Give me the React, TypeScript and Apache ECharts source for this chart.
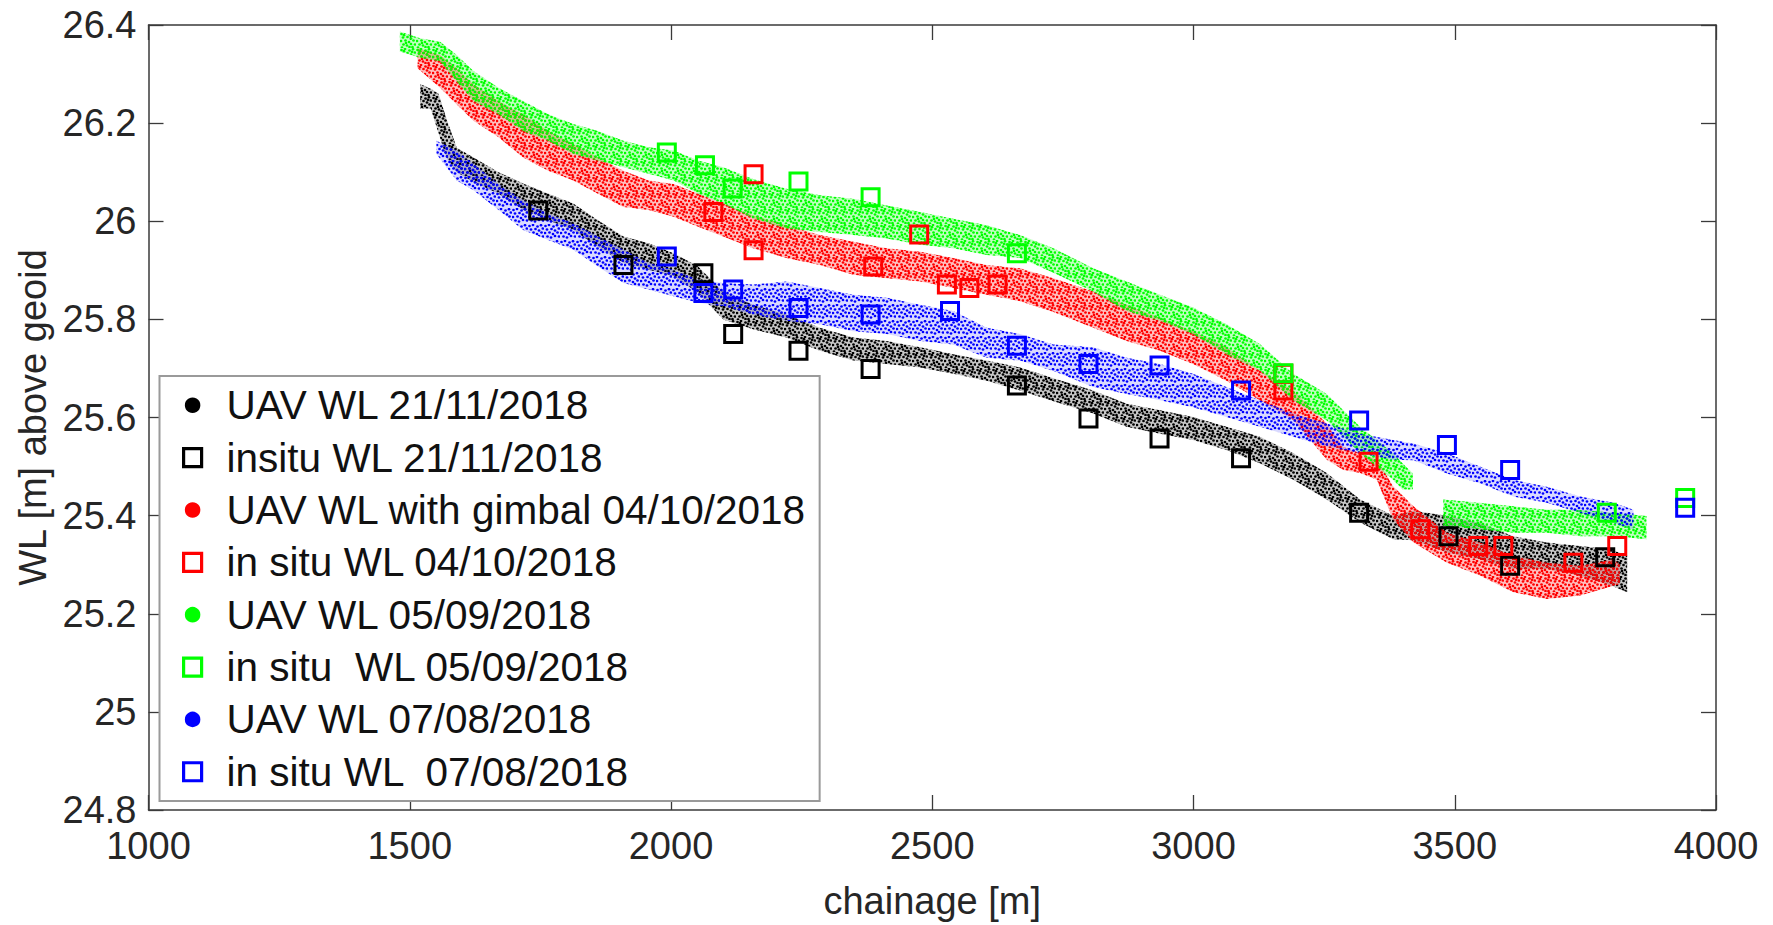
import React, { useEffect, useRef } from 'react';
import * as echarts from 'echarts';

const FONT = '"Liberation Sans", Arial, Helvetica, sans-serif';

// ---- names ----
const NAMES = [
  'UAV WL 21/11/2018',
  'insitu WL 21/11/2018',
  'UAV WL with gimbal 04/10/2018',
  'in situ WL 04/10/2018',
  'UAV WL 05/09/2018',
  'in situ  WL 05/09/2018',
  'UAV WL 07/08/2018',
  'in situ WL  07/08/2018',
];
const COLORS = ['#000000', '#ff0000', '#00ff00', '#0000ff'];

// ---- UAV WL 21/11/2018 (black) : point-cloud envelope ----
const uavNovX = [1520, 1540, 1555, 1570, 1590, 1622, 1670, 1717, 1765, 1813, 1860, 1909, 1957, 2005, 2052, 2100, 2157, 2221, 2285, 2349, 2413, 2477, 2540, 2604, 2668, 2732, 2808, 2872, 2936, 2999, 3063, 3127, 3191, 3255, 3319, 3382, 3421, 3485, 3548, 3612, 3676, 3740, 3800, 3830];
const uavNovHi = [26.28, 26.27, 26.26, 26.21, 26.15, 26.13, 26.1, 26.077, 26.056, 26.036, 26.002, 25.969, 25.955, 25.935, 25.908, 25.856, 25.83, 25.81, 25.783, 25.763, 25.756, 25.743, 25.729, 25.716, 25.702, 25.68, 25.655, 25.628, 25.615, 25.601, 25.581, 25.561, 25.527, 25.487, 25.433, 25.4, 25.41, 25.4, 25.385, 25.358, 25.345, 25.338, 25.331, 25.318];
const uavNovLo = [26.23, 26.23, 26.18, 26.13, 26.1, 26.08, 26.056, 26.023, 26.002, 25.982, 25.948, 25.915, 25.901, 25.888, 25.854, 25.8, 25.78, 25.763, 25.736, 25.716, 25.709, 25.702, 25.689, 25.675, 25.655, 25.633, 25.608, 25.581, 25.567, 25.554, 25.534, 25.507, 25.473, 25.433, 25.386, 25.352, 25.35, 25.325, 25.311, 25.291, 25.291, 25.278, 25.257, 25.244];

// ---- UAV WL with gimbal 04/10/2018 (red) ----
const uavOctX = [1515, 1558, 1590, 1622, 1670, 1717, 1765, 1813, 1860, 1909, 1957, 2005, 2052, 2100, 2157, 2221, 2285, 2349, 2413, 2477, 2540, 2604, 2668, 2732, 2808, 2872, 2936, 2999, 3063, 3127, 3191, 3255, 3287, 3319, 3351, 3382, 3421, 3485, 3548, 3612, 3676, 3740, 3804, 3816];
const uavOctHi = [26.353, 26.339, 26.312, 26.279, 26.245, 26.218, 26.184, 26.157, 26.13, 26.103, 26.083, 26.076, 26.056, 26.036, 26.012, 25.992, 25.972, 25.958, 25.945, 25.938, 25.925, 25.911, 25.904, 25.884, 25.857, 25.83, 25.803, 25.776, 25.743, 25.696, 25.655, 25.588, 25.54, 25.527, 25.514, 25.46, 25.419, 25.365, 25.345, 25.318, 25.304, 25.298, 25.311, 25.3];
const uavOctLo = [26.312, 26.272, 26.238, 26.205, 26.171, 26.13, 26.103, 26.083, 26.056, 26.029, 26.023, 26.009, 25.989, 25.969, 25.945, 25.925, 25.911, 25.891, 25.884, 25.877, 25.864, 25.85, 25.837, 25.815, 25.783, 25.756, 25.736, 25.709, 25.675, 25.635, 25.595, 25.514, 25.493, 25.487, 25.473, 25.392, 25.345, 25.304, 25.278, 25.244, 25.23, 25.237, 25.257, 25.26];

// ---- UAV WL 05/09/2018 (green) ; null marks the gap in the cloud ----
const uavSepX = [1481, 1520, 1558, 1590, 1622, 1670, 1717, 1765, 1813, 1860, 1909, 1957, 2005, 2052, 2100, 2157, 2221, 2285, 2349, 2413, 2477, 2540, 2604, 2668, 2732, 2808, 2872, 2936, 2999, 3063, 3127, 3191, 3255, 3319, 3382, 3400, 3420, 3450, 3478, 3548, 3612, 3676, 3740, 3804, 3867];
const uavSepHi = [26.387, 26.373, 26.366, 26.339, 26.306, 26.272, 26.245, 26.218, 26.198, 26.184, 26.164, 26.151, 26.144, 26.124, 26.11, 26.086, 26.066, 26.053, 26.046, 26.032, 26.019, 26.005, 25.992, 25.972, 25.945, 25.904, 25.877, 25.85, 25.824, 25.79, 25.75, 25.689, 25.648, 25.581, 25.527, 25.507, 25.486, null, 25.433, 25.426, 25.419, 25.412, 25.412, 25.406, 25.399];
const uavSepLo = [26.346, 26.333, 26.326, 26.285, 26.245, 26.218, 26.184, 26.164, 26.137, 26.124, 26.11, 26.097, 26.083, 26.056, 26.036, 26.006, 25.985, 25.978, 25.972, 25.965, 25.952, 25.945, 25.931, 25.925, 25.895, 25.857, 25.817, 25.797, 25.77, 25.729, 25.696, 25.635, 25.594, 25.527, 25.473, 25.453, 25.453, null, 25.379, 25.372, 25.365, 25.365, 25.358, 25.358, 25.352];

// ---- UAV WL 07/08/2018 (blue) ----
const uavAugX = [1551, 1590, 1622, 1670, 1717, 1765, 1813, 1860, 1909, 1957, 2005, 2052, 2100, 2157, 2221, 2285, 2349, 2413, 2477, 2540, 2604, 2668, 2732, 2808, 2872, 2936, 2999, 3063, 3127, 3191, 3255, 3319, 3382, 3421, 3485, 3548, 3612, 3676, 3740, 3804, 3842];
const uavAugHi = [26.164, 26.144, 26.117, 26.076, 26.043, 26.016, 25.996, 25.969, 25.942, 25.915, 25.901, 25.881, 25.874, 25.871, 25.877, 25.864, 25.85, 25.844, 25.83, 25.817, 25.783, 25.77, 25.749, 25.743, 25.722, 25.709, 25.689, 25.662, 25.635, 25.608, 25.588, 25.567, 25.554, 25.547, 25.527, 25.5, 25.473, 25.459, 25.439, 25.426, 25.412];
const uavAugLo = [26.137, 26.083, 26.063, 26.023, 25.982, 25.962, 25.942, 25.908, 25.874, 25.861, 25.847, 25.834, 25.827, 25.81, 25.797, 25.79, 25.776, 25.77, 25.756, 25.749, 25.722, 25.716, 25.695, 25.662, 25.648, 25.635, 25.621, 25.601, 25.581, 25.561, 25.541, 25.527, 25.514, 25.513, 25.486, 25.466, 25.439, 25.426, 25.406, 25.385, 25.372];

// ---- in situ water levels ----
const insituNovX = [1746, 1909, 2062, 2119, 2244, 2382, 2662, 2799, 2935, 3091, 3317, 3488, 3606, 3788];
const insituNovY = [26.022, 25.911, 25.894, 25.77, 25.736, 25.699, 25.665, 25.598, 25.557, 25.517, 25.406, 25.358, 25.298, 25.315];
const insituOctX = [2081, 2158, 2158, 2387, 2475, 2528, 2571, 2625, 3172, 3172, 3335, 3434, 3545, 3593, 3727, 3811];
const insituOctY = [26.019, 26.096, 25.941, 25.908, 25.973, 25.871, 25.864, 25.871, 25.689, 25.655, 25.51, 25.372, 25.338, 25.338, 25.304, 25.338];
const insituSepX = [1992, 2065, 2118, 2244, 2382, 2662, 3172, 3791, 3941];
const insituSepY = [26.14, 26.114, 26.067, 26.081, 26.049, 25.935, 25.69, 25.406, 25.436];
const insituAugX = [1992, 2062, 2119, 2244, 2382, 2534, 2662, 2799, 2935, 3091, 3317, 3485, 3606, 3941];
const insituAugY = [25.928, 25.854, 25.861, 25.823, 25.81, 25.817, 25.746, 25.709, 25.706, 25.655, 25.594, 25.544, 25.493, 25.416];

// ---- axes ----
const X_MIN = 1000, X_MAX = 4000, X_STEP = 500;
const Y_MIN = 24.8, Y_MAX = 26.4, Y_STEP = 0.2;

// stipple texture used to render the dense point clouds
const DOTS: number[][] = [[1.5, 2], [5, 1], [9.5, 2.5], [13, 1.2], [3, 5.5], [7.5, 5], [11, 6.5], [14.8, 4.5], [1, 9], [5.5, 8.5], [9, 10], [13.5, 8.5], [3.5, 12.5], [7, 13.5], [11, 12], [15, 12.5], [2, 15.5], [9.5, 15], [12.5, 15.2], [6, 11], [12, 3.8], [4, 3.2]];
function tile(color: string, n: number, r: number, base: number) {
  const circles = DOTS.slice(0, n).map(([x, y]) => `<circle cx="${x}" cy="${y}" r="${r}" fill="${color}"/>`).join('');
  const svg = `<svg xmlns="http://www.w3.org/2000/svg" width="16" height="16"><rect width="16" height="16" fill="${color}" fill-opacity="${base}"/>${circles}</svg>`;
  return { image: 'data:image/svg+xml;charset=utf-8,' + encodeURIComponent(svg), repeat: 'repeat', imageWidth: 16, imageHeight: 16 };
}

function band(name: string, xs: number[], hi: (number | null)[], lo: (number | null)[], color: string, n: number, base: number) {
  const fill = tile(color, n, 1.35, base);
  return {
    type: 'custom',
    name,
    coordinateSystem: 'cartesian2d',
    data: xs.map((x, i) => [x, lo[i], hi[i]]),
    encode: { x: 0, y: [1, 2] },
    clip: true,
    silent: true,
    z: 2,
    itemStyle: { color },
    renderItem: (params: any, api: any) => {
      if (params.dataIndex !== 0) return null;
      const segs: number[][] = [[]];
      xs.forEach((_, i) => {
        if (lo[i] == null || hi[i] == null) segs.push([]);
        else segs[segs.length - 1].push(i);
      });
      const children = segs.filter((s) => s.length > 1).map((s) => {
        const top = s.map((i) => api.coord([xs[i], hi[i]]));
        const bot = s.slice().reverse().map((i) => api.coord([xs[i], lo[i]]));
        return { type: 'polygon', shape: { points: top.concat(bot) }, style: { fill, stroke: null } };
      });
      return { type: 'group', children };
    },
  };
}

function squares(name: string, xs: number[], ys: number[], color: string) {
  return {
    type: 'scatter',
    name,
    data: xs.map((x, i) => [x, ys[i]]),
    symbol: 'rect',
    symbolSize: 17,
    silent: true,
    z: 3,
    itemStyle: { color: 'rgba(0,0,0,0)', borderColor: color, borderWidth: 3, opacity: 1 },
  };
}

const axisLine = { show: true, onZero: false, lineStyle: { color: '#3a3a3a', width: 1.5 } };
const tick = { show: true, inside: true, length: 15, lineStyle: { color: '#3a3a3a', width: 1.3 } };
const labelStyle = { color: '#262626', fontFamily: FONT, fontSize: 38 };

const legendItem = (i: number) => {
  const c = COLORS[Math.floor(i / 2)];
  return i % 2 === 0
    ? { name: NAMES[i], icon: 'circle', itemStyle: { color: c, borderColor: '#ffffff', borderWidth: 2.5 } }
    : { name: NAMES[i], icon: 'rect', itemStyle: { color: 'rgba(0,0,0,0)', borderColor: c, borderWidth: 3.2 } };
};

const option: any = {
  animation: false,
  backgroundColor: '#ffffff',
  grid: { left: 148.5, right: 57, top: 25, bottom: 109, containLabel: false, show: false },
  xAxis: [
    {
      type: 'value', min: X_MIN, max: X_MAX, interval: X_STEP, position: 'bottom',
      name: 'chainage [m]', nameLocation: 'middle', nameGap: 72,
      nameTextStyle: { color: '#262626', fontFamily: FONT, fontSize: 38, lineHeight: 38 },
      axisLine, axisTick: tick, splitLine: { show: false },
      axisLabel: { ...labelStyle, margin: 17, lineHeight: 38, formatter: (v: number) => String(v) },
    },
    {
      type: 'value', min: X_MIN, max: X_MAX, interval: X_STEP, position: 'top',
      axisLine, axisTick: tick, splitLine: { show: false }, axisLabel: { show: false },
    },
  ],
  yAxis: [
    {
      type: 'value', min: Y_MIN, max: Y_MAX, interval: Y_STEP, position: 'left',
      name: 'WL [m] above geoid', nameLocation: 'middle', nameRotate: 90, nameGap: 97,
      nameTextStyle: { color: '#262626', fontFamily: FONT, fontSize: 38, lineHeight: 38 },
      axisLine, axisTick: tick, splitLine: { show: false },
      axisLabel: { ...labelStyle, margin: 12, formatter: (v: number) => String(Math.round(v * 10) / 10) },
    },
    {
      type: 'value', min: Y_MIN, max: Y_MAX, interval: Y_STEP, position: 'right',
      axisLine, axisTick: tick, splitLine: { show: false }, axisLabel: { show: false },
    },
  ],
  legend: {
    orient: 'vertical',
    left: 159.5,
    top: 376,
    padding: [8.75, 13, 8.75, 22.5],
    itemGap: 11.36,
    itemWidth: 18,
    itemHeight: 18,
    selectedMode: false,
    backgroundColor: '#ffffff',
    borderColor: '#9a9a9a',
    borderWidth: 2,
    textStyle: { color: '#111111', fontFamily: FONT, fontSize: 40.5, lineHeight: 40.5, padding: [0, 0, 0, 20] },
    data: NAMES.map((_, i) => legendItem(i)),
    z: 10,
  },
  series: [
    band(NAMES[0], uavNovX, uavNovHi, uavNovLo, COLORS[0], 22, 0.22),
    squares(NAMES[1], insituNovX, insituNovY, COLORS[0]),
    band(NAMES[2], uavOctX, uavOctHi, uavOctLo, COLORS[1], 22, 0.25),
    squares(NAMES[3], insituOctX, insituOctY, COLORS[1]),
    band(NAMES[4], uavSepX, uavSepHi, uavSepLo, COLORS[2], 22, 0.25),
    squares(NAMES[5], insituSepX, insituSepY, COLORS[2]),
    band(NAMES[6], uavAugX, uavAugHi, uavAugLo, COLORS[3], 16, 0.15),
    squares(NAMES[7], insituAugX, insituAugY, COLORS[3]),
  ],
};

export default function App() {
  const ref = useRef<HTMLDivElement>(null);
  useEffect(() => {
    if (!ref.current) return;
    const chart = echarts.init(ref.current, null, { renderer: 'svg' });
    chart.setOption(option);
    return () => chart.dispose();
  }, []);
  return (
    <div
      ref={ref}
      style={{ position: 'fixed', left: 0, top: 0, width: 1773, height: 925, background: '#ffffff' }}
    />
  );
}
